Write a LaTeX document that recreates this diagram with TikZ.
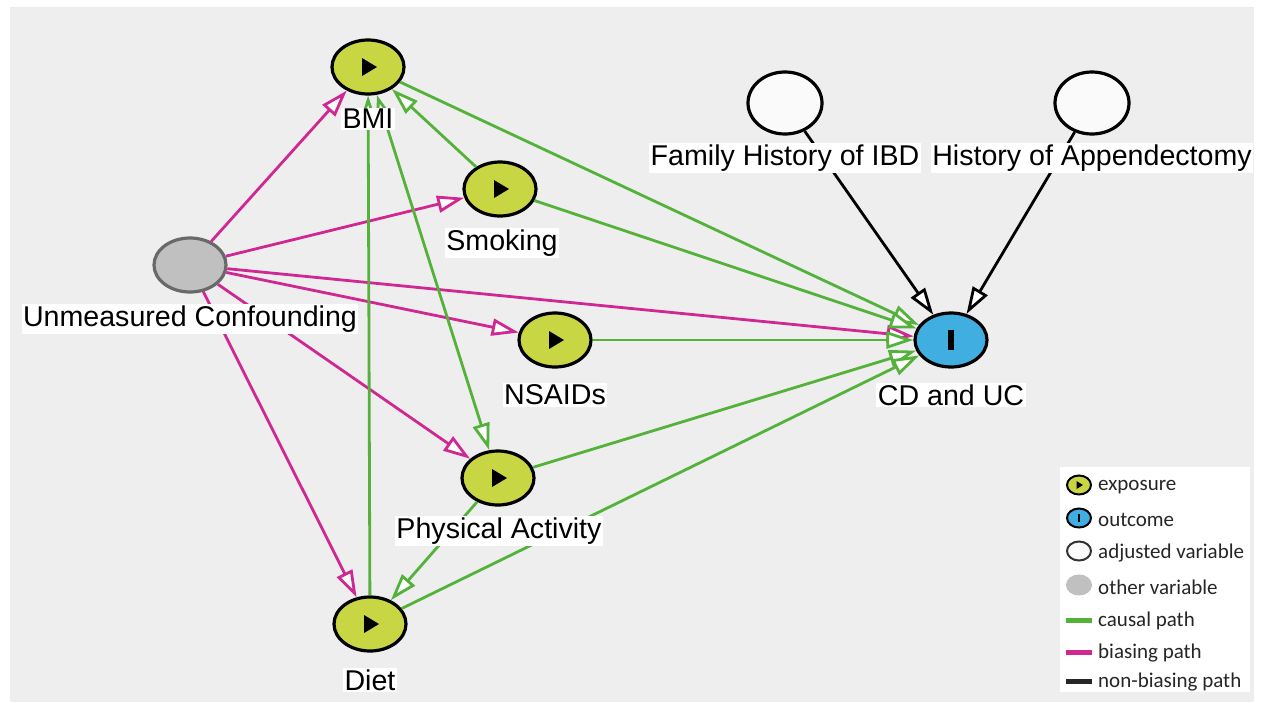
\documentclass[tikz,border=0pt]{standalone}
\usepackage{fontspec}
\setmainfont{Liberation Sans}
\newfontfamily\legfont{Carlito}
\usetikzlibrary{shapes.geometric,arrows.meta}
\definecolor{expo}{RGB}{199,214,66}
\definecolor{outc}{RGB}{64,174,224}
\definecolor{othr}{RGB}{192,192,192}
\definecolor{othrd}{RGB}{105,105,105}
\definecolor{adj}{RGB}{250,250,250}
\definecolor{causalc}{RGB}{84,178,58}
\definecolor{biasc}{RGB}{208,40,146}
\definecolor{bgc}{RGB}{238,238,238}
\begin{document}
\begin{tikzpicture}[x=1pt,y=-1pt,
  var/.style={ellipse,draw=black,line width=3.2pt,minimum width=72pt,minimum height=54pt,inner sep=0pt},
  exposure/.style={var,fill=expo},
  outcome/.style={var,fill=outc},
  adjusted/.style={var,fill=adj,minimum width=74pt,minimum height=62pt},
  other/.style={var,fill=othr,draw=othrd},
  lab/.style={fill=white,inner sep=1.5pt,font=\fontsize{28.6}{30}\selectfont},
  tipo/.style={-{Triangle[length=27pt,width=17pt,fill=white]}},
  causal/.style={draw=causalc,line width=2.8pt,tipo},
  bias/.style={draw=biasc,line width=2.8pt,tipo},
  nonbias/.style={draw=black,line width=2.8pt,tipo},
  legi/.style={ellipse,draw=black,line width=2pt,minimum width=24pt,minimum height=19pt,inner sep=0pt},
  legt/.style={anchor=west,inner sep=0pt,font=\legfont\fontsize{21}{22}\selectfont,text=black!85},
]
\useasboundingbox (0,0) rectangle (1264,710);
\fill[white] (0,0) rectangle (1264,710);
\fill[bgc] (10,7) rectangle (1254,702);

% variables
\node[exposure] (bmi) at (368,67) {};
\node[exposure] (smk) at (500,189) {};
\node[other] (U) at (190,265) {};
\node[exposure] (nsa) at (555,340) {};
\node[exposure] (pa) at (498,478) {};
\node[exposure] (diet) at (370,624) {};
\node[outcome] (cd) at (951,340) {};
\node[adjusted] (fh) at (785,103) {};
\node[adjusted] (ha) at (1092,103) {};

% play symbols and outcome bar
\foreach \n in {bmi,smk,nsa,pa,diet}{
  \fill[black] ([shift={(-6,-9)}]\n.center) -- ([shift={(-6,9)}]\n.center) -- ([shift={(9,0)}]\n.center) -- cycle;
}
\fill[black] ([shift={(-3,-10)}]cd.center) rectangle ([shift={(3,10)}]cd.center);

% biasing paths
\draw[bias] (U) -- (bmi);
\draw[bias] (U) -- (smk);
\draw[bias] (U) -- (cd);
\draw[bias] (U) -- (nsa);
\draw[bias] (U) -- (pa);
\draw[bias] (U) -- (diet);

% causal paths
\draw[causal] (bmi) -- (cd);
\draw[causal] (smk) -- (bmi);
\draw[causal] (smk) -- (cd);
\draw[causal] (nsa) -- (cd);
\draw[causal,{Triangle[length=27pt,width=17pt,fill=white]}-{Triangle[length=27pt,width=17pt,fill=white]}] (bmi) -- (pa);
\draw[causal] (diet) -- (bmi);
\draw[causal] (pa) -- (cd);
\draw[causal] (pa) -- (diet);
\draw[causal] (diet) -- (cd);

% non-biasing paths
\draw[nonbias] (fh) -- (cd);
\draw[nonbias] (ha) -- (cd);

% labels
\node[lab] (bmiL) at (368,119) {BMI};
\node[lab] (smkL) at (502,243) {Smoking};
\node[lab] (UL) at (190,319) {Unmeasured Confounding};
\node[lab] (nsaL) at (555,395) {NSAIDs};
\node[lab] (paL) at (499,531) {Physical Activity};
\node[lab] (dietL) at (370,680) {Diet};
\node[lab] (cdL) at (951,395) {CD and UC};
\node[lab] (fhL) at (785,158) {Family History of IBD};
\node[lab] (haL) at (1092,158) {History of Appendectomy};

% legend
\fill[white] (1060,467) rectangle (1250,692);
\node[legi,fill=expo] (le1) at (1079,485) {};
\fill[black] ([shift={(-2.5,-4)}]le1.center) -- ([shift={(-2.5,4)}]le1.center) -- ([shift={(4,0)}]le1.center) -- cycle;
\node[legi,fill=outc] (le2) at (1079,518) {};
\fill[black] ([shift={(-1.2,-4)}]le2.center) rectangle ([shift={(1.2,4)}]le2.center);
\node[legi,fill=adj,draw=black!80] (le3) at (1079,551) {};
\node[legi,fill=othr,draw=othr] (le4) at (1079,585) {};
\coordinate (le5a) at (1066,620); \coordinate (le5b) at (1092,620);
\draw[causalc,line width=5pt] (le5a) -- (le5b);
\coordinate (le6a) at (1066,652); \coordinate (le6b) at (1092,652);
\draw[biasc,line width=5pt] (le6a) -- (le6b);
\coordinate (le7a) at (1066,681); \coordinate (le7b) at (1092,681);
\draw[black!85,line width=5pt] (le7a) -- (le7b);
\node[legt] (lt1) at (1098,487) {exposure};
\node[legt] (lt2) at (1098,520) {outcome};
\node[legt] (lt3) at (1098,553) {adjusted variable};
\node[legt] (lt4) at (1098,587) {other variable};
\node[legt] (lt5) at (1098,621) {causal path};
\node[legt] (lt6) at (1098,653) {biasing path};
\node[legt] (lt7) at (1098,682) {non-biasing path};
\end{tikzpicture}
\end{document}
